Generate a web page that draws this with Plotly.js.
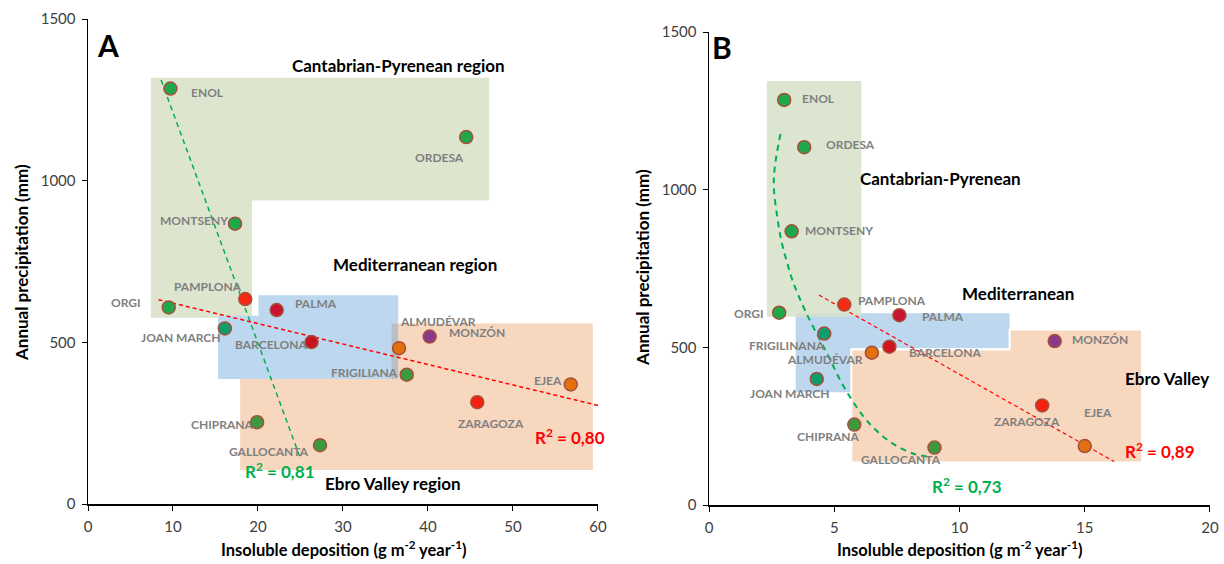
<!DOCTYPE html>
<html>
<head>
<meta charset="utf-8">
<script src="https://cdn.plot.ly/plotly-3.0.1.min.js"></script>
<style>html,body{margin:0;padding:0;background:#fff;}#chart{width:1224px;height:564px;}</style>
</head>
<body>
<div id="chart"></div>
<script>
// ---------- Panel A data ----------
const sitesA = ["ENOL","ORDESA","MONTSENY","PAMPLONA","ORGI","PALMA","JOAN MARCH","BARCELONA","ALMUDÉVAR","MONZÓN","FRIGILIANA","EJEA","ZARAGOZA","CHIPRANA","GALLOCANTA"];
const depositionA = [9.7, 44.5, 17.3, 18.5, 9.5, 22.2, 16.1, 26.3, 36.6, 40.2, 37.5, 56.8, 45.8, 19.9, 27.3];
const precipA     = [1285, 1135, 867, 634, 608, 600, 543, 501, 482, 518, 400, 370, 315, 253, 182];
const colorsA = ["#1FA84A","#1FA84A","#1FA84A","#F52A12","#1FA84A","#C8142E","#0E9E6E","#C8141F","#E2700F","#8B3A8B","#3C9A3C","#E2700F","#F5200F","#3C9A3C","#3C9A3C"];
const labelXA = [14.1, 41.4, 12.5, 14.1, 4.5, 26.8, 10.9, 21.5, 41.2, 45.8, 32.5, 54.1, 47.4, 15.8, 21.3];
const labelYA = [1273, 1071, 877, 672, 622, 621, 516, 494, 563, 531, 408, 382, 249, 245, 163];

// trend lines A
const trendGreenXA = [8.6, 24.9];
const trendGreenYA = [1311, 148];
const trendRedXA = [8.3, 61.1];
const trendRedYA = [632, 298];

// region outlines A (data coords)
const regionGreenXA = [7.4, 47.2, 47.2, 19.3, 19.3, 7.4];
const regionGreenYA = [1318, 1318, 939, 939, 576, 576];
const regionBlueXA = [20.05, 36.5, 36.5, 15.3, 15.3, 20.05];
const regionBlueYA = [646, 646, 387, 387, 582, 582];
const regionOrangeXA = [35.7, 59.4, 59.4, 17.9, 17.9, 35.7];
const regionOrangeYA = [558, 558, 105, 105, 387, 387];
const overlapXA = [35.7, 36.5];
const overlapYA = [387, 558];

// ---------- Panel B data ----------
const sitesB = ["ENOL","ORDESA","MONTSENY","PAMPLONA","ORGI","PALMA","JOAN MARCH","BARCELONA","ALMUDÉVAR","MONZÓN","FRIGILIANA","ZARAGOZA","EJEA","CHIPRANA","GALLOCANTA"];
const depositionB = [3.0, 3.8, 3.3, 5.4, 2.8, 7.6, 4.6, 7.2, 6.5, 13.8, 4.3, 13.3, 15.0, 5.8, 9.0];
const precipB     = [1285, 1135, 868, 636, 610, 602, 544, 502, 483, 520, 400, 316, 187, 255, 182];
const colorsB = ["#1FA84A","#1FA84A","#1FA84A","#F52A12","#1FA84A","#C8142E","#0E9E6E","#D0141F","#E2700F","#8B3A8B","#0E9E6E","#F5200F","#E2700F","#3C9A3C","#3C9A3C"];
const labelTextB = ["ENOL","ORDESA","MONTSENY","PAMPLONA","ORGI","PALMA","FRIGILINANA","BARCELONA","ALMUDÉVAR","MONZÓN","JOAN MARCH","ZARAGOZA","EJEA","CHIPRANA","GALLOCANTA"];
const labelXB = [4.36, 5.66, 5.2, 7.3, 1.6, 9.33, 3.12, 9.41, 4.64, 15.6, 3.25, 12.68, 15.53, 4.73, 7.66];
const labelYB = [1290, 1145, 871, 650, 609, 598, 506, 484, 460, 525, 355, 265, 295, 216, 145];

const trendGreenXB = [2.85, 2.62, 2.59, 2.73, 2.89, 3.1, 3.34, 3.84, 4.66, 5.47, 6.42, 7.37, 8.19, 8.8];
const trendGreenYB = [1177, 1068, 1005, 911, 837, 774, 711, 616, 489, 363, 257, 193, 162, 153];
const trendRedXB = [4.39, 16.17];
const trendRedYB = [666, 138];

const regionGreenXB = [2.31, 6.08, 6.08, 2.31];
const regionGreenYB = [1345, 1345, 597, 597];
const regionBlueXB = [3.46, 12.0, 12.0, 5.68, 5.68, 3.46];
const regionBlueYB = [608, 608, 497, 497, 358, 358];
const regionOrangeXB = [5.68, 12.0, 12.0, 17.29, 17.29, 5.68];
const regionOrangeYB = [493, 493, 557, 557, 135, 135];

// ---------- helpers ----------
const FONT = 'Lato, "Open Sans", "Liberation Sans", sans-serif';
function pathOf(xs, ys){
  return xs.map((x,i)=>(i===0?'M':'L')+x+','+ys[i]).join(' ')+' Z';
}
function region(xs, ys, fill, xr, yr, line){
  return {type:'path', path:pathOf(xs,ys), xref:xr, yref:yr, fillcolor:fill,
          line:line||{width:0}, layer:'below'};
}
function siteLabels(texts, xs, ys, xr, yr){
  return texts.map((t,i)=>({text:'<b>'+t+'</b>', x:xs[i], y:ys[i], xref:xr, yref:yr,
    showarrow:false, xanchor:'center', yanchor:'middle',
    font:{family:FONT, size:12, color:'#7F7F7F'}}));
}
function note(text, x, y, xr, yr, size, color){
  return {text:'<b>'+text+'</b>', x:x, y:y, xref:xr, yref:yr, showarrow:false,
    xanchor:'center', yanchor:'middle', font:{family:FONT, size:size, color:color}};
}

const markerLine = {color:'#A5503C', width:1.5};

const traces = [
  {x:trendGreenXA, y:trendGreenYA, mode:'lines', xaxis:'x', yaxis:'y', line:{color:'#00B050', width:1.5, dash:'5px,4px'}, hoverinfo:'skip'},
  {x:trendRedXA, y:trendRedYA, mode:'lines', xaxis:'x', yaxis:'y', line:{color:'#FF0000', width:1.5, dash:'4px,3px'}, hoverinfo:'skip'},
  {x:depositionA, y:precipA, text:sitesA, mode:'markers', xaxis:'x', yaxis:'y',
   marker:{size:13, color:colorsA, line:markerLine}},
  {x:trendGreenXB, y:trendGreenYB, mode:'lines', xaxis:'x2', yaxis:'y2', line:{color:'#00B050', width:2, dash:'6px,5px', shape:'spline'}, hoverinfo:'skip'},
  {x:trendRedXB, y:trendRedYB, mode:'lines', xaxis:'x2', yaxis:'y2', line:{color:'#FF0000', width:1.2, dash:'4px,3px'}, hoverinfo:'skip'},
  {x:depositionB, y:precipB, text:sitesB, mode:'markers', xaxis:'x2', yaxis:'y2',
   marker:{size:13, color:colorsB, line:markerLine}}
];

const axisBase = {showline:true, linecolor:'#000', linewidth:1.5, ticks:'outside', ticklen:5,
  tickcolor:'#000', tickwidth:1, showgrid:false, zeroline:false, ticklabelstandoff:3,
  tickfont:{family:FONT, size:15, color:'#404040'}};

const shapes = [
  region(regionGreenXA, regionGreenYA, '#DDE5CF', 'x', 'y'),
  region(regionBlueXA, regionBlueYA, '#BDD7EE', 'x', 'y'),
  region(regionOrangeXA, regionOrangeYA, '#F8D7BF', 'x', 'y'),
  {type:'rect', xref:'x', yref:'y', x0:overlapXA[0], x1:overlapXA[1], y0:overlapYA[0], y1:overlapYA[1], fillcolor:'#B9BFC4', line:{width:0}, layer:'below'},
  region(regionBlueXB, regionBlueYB, '#BDD7EE', 'x2', 'y2'),
  region(regionOrangeXB, regionOrangeYB, '#F8D7BF', 'x2', 'y2', {color:'#FFFFFF', width:2}),
  region(regionGreenXB, regionGreenYB, 'rgba(214,224,200,0.85)', 'x2', 'y2')
];

const xTitle = '<b>Insoluble deposition (g m<sup>-2</sup> year<sup>-1</sup>)</b>';
const yTitle = '<b>Annual precipitation (mm)</b>';

const annotations = [].concat(
  siteLabels(sitesA, labelXA, labelYA, 'x', 'y'),
  siteLabels(labelTextB, labelXB, labelYB, 'x2', 'y2'),
  [
    note('A', 2.35, 1420, 'x', 'y', 30, '#000'),
    note('B', 0.52, 1452, 'x2', 'y2', 30, '#000'),
    note('Cantabrian-Pyrenean region', 36.5, 1357, 'x', 'y', 17, '#000'),
    note('Mediterranean region', 38.5, 740, 'x', 'y', 17, '#000'),
    note('Ebro Valley region', 35.9, 64, 'x', 'y', 17, '#000'),
    note('R<sup>2</sup> = 0,81', 22.6, 105, 'x', 'y', 17, '#00B050'),
    note('R<sup>2</sup> = 0,80', 56.7, 210, 'x', 'y', 17, '#FF0000'),
    note('Cantabrian-Pyrenean', 9.23, 1036, 'x2', 'y2', 17, '#000'),
    note('Mediterranean', 12.34, 671, 'x2', 'y2', 17, '#000'),
    note('Ebro Valley', 18.3, 400, 'x2', 'y2', 17, '#000'),
    note('R<sup>2</sup> = 0,89', 18.0, 172, 'x2', 'y2', 17, '#FF0000'),
    note('R<sup>2</sup> = 0,73', 10.3, 62, 'x2', 'y2', 17, '#00B050'),
    {text:yTitle, xref:'paper', yref:'paper', x:-0.0588, y:0.498, textangle:-90, showarrow:false, xanchor:'center', yanchor:'middle', font:{family:FONT, size:17, color:'#000'}},
    {text:yTitle, xref:'paper', yref:'paper', x:0.4947, y:0.488, textangle:-90, showarrow:false, xanchor:'center', yanchor:'middle', font:{family:FONT, size:17, color:'#000'}},
    {text:xTitle, xref:'paper', yref:'paper', x:0.2273, y:-0.09, showarrow:false, xanchor:'center', yanchor:'middle', font:{family:FONT, size:16.5, color:'#000'}},
    {text:xTitle, xref:'paper', yref:'paper', x:0.7767, y:-0.09, showarrow:false, xanchor:'center', yanchor:'middle', font:{family:FONT, size:16.5, color:'#000'}}
  ]
);

const layout = {
  width:1224, height:564,
  margin:{l:88, r:14, t:19, b:59},
  paper_bgcolor:'#FFFFFF', plot_bgcolor:'rgba(0,0,0,0)',
  showlegend:false,
  font:{family:FONT},
  xaxis:Object.assign({}, axisBase, {domain:[0,0.4545], range:[0,60], dtick:10, tick0:0, anchor:'y'}),
  yaxis:Object.assign({}, axisBase, {domain:[0.002,1], range:[0,1500], dtick:500, tick0:0, anchor:'x'}),
  xaxis2:Object.assign({}, axisBase, {domain:[0.5535,1], range:[0,20], dtick:5, tick0:0, anchor:'y2'}),
  yaxis2:Object.assign({}, axisBase, {domain:[0,0.973], range:[0,1500], dtick:500, tick0:0, anchor:'x2'}),
  shapes:shapes,
  annotations:annotations
};

Plotly.newPlot('chart', traces, layout, {staticPlot:true, displayModeBar:false});
</script>
</body>
</html>
